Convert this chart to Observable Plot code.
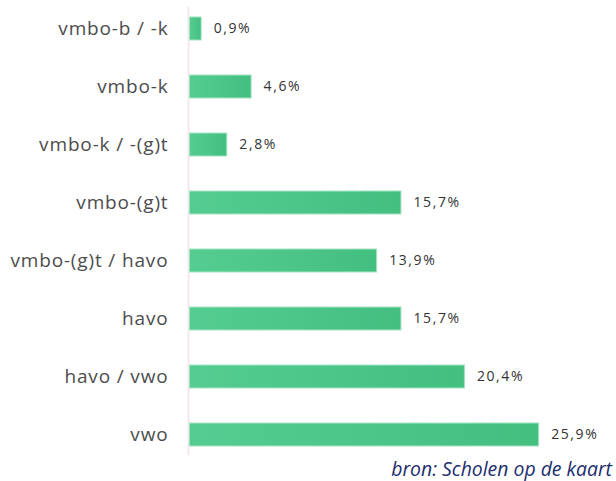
<!DOCTYPE html>
<html>
<head>
<meta charset="utf-8">
<script src="https://cdn.jsdelivr.net/npm/d3@7"></script>
<script src="https://cdn.jsdelivr.net/npm/@observablehq/plot@0.6"></script>
<style>
  body { margin: 0; background: #fff; width: 616px; }
  #caption { height: 25px; line-height: 25px; text-align: right; padding-right: 4px;
    font-family: "Open Sans", sans-serif; font-style: italic; font-size: 19.4px; color: #1c2d6e; white-space: nowrap; }
  #chart svg g[aria-label="y-axis tick label"] text { letter-spacing: 0.85px; }
  #chart svg g[aria-label="text"] text { letter-spacing: 1.6px; }
</style>
</head>
<body>
<div id="chart"></div>
<div id="caption">bron: Scholen op de kaart</div>
<script>
const categories = ["vmbo-b / -k", "vmbo-k", "vmbo-k / -(g)t", "vmbo-(g)t", "vmbo-(g)t / havo", "havo", "havo / vwo", "vwo"];
const values = [0.9, 4.6, 2.8, 15.7, 13.9, 15.7, 20.4, 25.9];
const data = categories.map((c, i) => ({cat: c, value: values[i]}));
const fmt = v => d3.format(".1f")(v).replace(".", ",") + "%";

const plot = Plot.plot({
  width: 616,
  height: 456,
  marginTop: 7,
  marginBottom: 1,
  marginLeft: 189,
  marginRight: 22,
  style: {fontFamily: "'Open Sans', sans-serif", background: "transparent"},
  x: {domain: [0, 30], axis: null},
  y: {domain: categories, range: [-1.6, 464.1], paddingInner: 0.605, paddingOuter: 0.3025, label: null},
  marks: [
    Plot.ruleX([0], {stroke: "#f1e3e8", strokeWidth: 1.5, dx: -1}),
    Plot.barX(data, {y: "cat", x: "value", fill: "url(#barGrad)", stroke: "#a6e3c2", strokeWidth: 1, insetLeft: 0.5}),
    Plot.text(data, {y: "cat", x: "value", text: d => fmt(d.value), dx: 12, textAnchor: "start", fontSize: 14, fill: "#333"}),
    Plot.axisY({tickSize: 0, tickPadding: 21, fontSize: 19, color: "#4d4d4d", label: null})
  ]
});

const ns = "http://www.w3.org/2000/svg";
const defs = document.createElementNS(ns, "defs");
defs.innerHTML = '<linearGradient id="barGrad" x1="0" x2="1" y1="0" y2="0"><stop offset="0" stop-color="#55cd92"/><stop offset="1" stop-color="#43bf80"/></linearGradient>';
plot.insertBefore(defs, plot.firstChild);
document.getElementById("chart").appendChild(plot);
</script>
</body>
</html>
